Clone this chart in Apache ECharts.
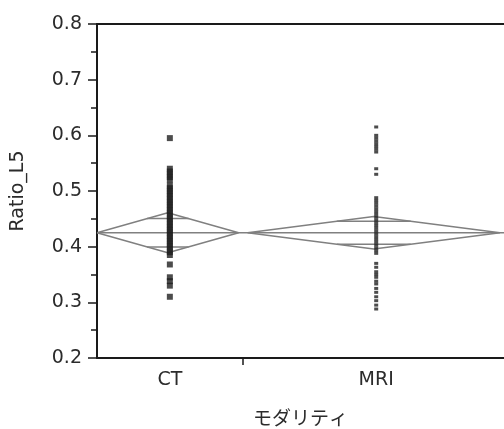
<!DOCTYPE html>
<html>
<head>
<meta charset="utf-8">
<script src="https://cdn.jsdelivr.net/npm/echarts@6/dist/echarts.min.js"></script>
<style>
  html, body { margin: 0; padding: 0; background: #fff; }
  #chart { width: 504px; height: 429px; }
</style>
</head>
<body>
<div id="chart"></div>
<script>
// data
const categories = ['CT', 'MRI']
const means = [0.425, 0.425]
const ciHalf = [0.036, 0.029]   // half height of the means diamonds

const ctValues = [
  0.595, 0.540, 0.535, 0.530, 0.525, 0.520, 0.510, 0.505, 0.500, 0.495,
  0.490, 0.485, 0.480, 0.475, 0.470, 0.465, 0.460, 0.455, 0.450, 0.445,
  0.440, 0.435, 0.430, 0.425, 0.420, 0.415, 0.410, 0.405, 0.400, 0.395,
  0.390, 0.385, 0.368, 0.345, 0.338, 0.330, 0.310
]
const mriValues = [
  0.615, 0.600, 0.595, 0.590, 0.585, 0.580, 0.575, 0.570, 0.540, 0.530,
  0.488, 0.483, 0.478, 0.473, 0.468, 0.463, 0.458, 0.453, 0.448, 0.443,
  0.438, 0.433, 0.428, 0.423, 0.418, 0.413, 0.408, 0.403, 0.398, 0.393,
  0.388, 0.370, 0.363, 0.355, 0.350, 0.345, 0.338, 0.333, 0.325, 0.318,
  0.310, 0.303, 0.295, 0.288
]
const yTicks = [0.2, 0.3, 0.4, 0.5, 0.6, 0.7, 0.8]

// layout of the proportional x bands (0..1 across the plot)
const bandLeft = [0, 0.37]
const bandRight = [0.348, 0.99]
const centers = [0.179, 0.686]
const separator = 0.359

const DIAMOND = '#808080'
const INK = '#2b2b2b'

function diamond(i) {
  const x0 = bandLeft[i], x1 = bandRight[i], xc = (x0 + x1) / 2
  const m = means[i], h = ciHalf[i]
  return [[x0, m], [xc, m + h], [x1, m], [xc, m - h], [x0, m]]
}

function overlapMarks(i) {
  const x0 = bandLeft[i], x1 = bandRight[i], xc = (x0 + x1) / 2
  const half = (x1 - x0) / 2 * (1 - Math.SQRT1_2)
  const d = ciHalf[i] * Math.SQRT1_2
  const m = means[i]
  return [
    [[xc - half, m + d], [xc + half, m + d]],
    [[xc - half, m - d], [xc + half, m - d]]
  ]
}

const series = []

// mean line across all bands
series.push({
  type: 'line',
  data: [[0, means[0]], [bandRight[0], means[0]], [bandLeft[1], means[1]], [1, means[1]]],
  symbol: 'none',
  lineStyle: { color: DIAMOND, width: 1.5 },
  silent: true,
  z: 2
})

categories.forEach((c, i) => {
  series.push({
    type: 'line',
    data: diamond(i),
    symbol: 'none',
    lineStyle: { color: DIAMOND, width: 1.5 },
    silent: true,
    z: 2
  })
  overlapMarks(i).forEach(seg => {
    series.push({
      type: 'line',
      data: seg,
      symbol: 'none',
      lineStyle: { color: DIAMOND, width: 1.5 },
      silent: true,
      z: 2
    })
  })
})

series.push({
  type: 'scatter',
  data: ctValues.map(v => [centers[0], v]),
  symbol: 'rect',
  symbolSize: [6, 6],
  itemStyle: { color: '#1f1f1f' },
  z: 3
})
series.push({
  type: 'scatter',
  data: mriValues.map(v => [centers[1], v]),
  symbol: 'rect',
  symbolSize: [4, 3],
  itemStyle: { color: '#1f1f1f' },
  z: 3
})

const chart = echarts.init(document.getElementById('chart'), null, { renderer: 'canvas' })

chart.setOption({
  animation: false,
  backgroundColor: '#fff',
  grid: { left: 97, top: 24, right: 0, bottom: 71, outerBoundsMode: 'none' },
  xAxis: [{
    type: 'value',
    min: 0,
    max: 1,
    position: 'bottom',
    splitLine: { show: false },
    axisLine: { show: true, lineStyle: { color: '#1a1a1a', width: 2 } },
    axisTick: {
      show: true,
      customValues: [separator],
      length: 7,
      lineStyle: { color: '#1a1a1a', width: 1.5 }
    },
    axisLabel: {
      customValues: centers,
      formatter: v => {
        let best = 0
        centers.forEach((c, i) => { if (Math.abs(c - v) < Math.abs(centers[best] - v)) best = i })
        return categories[best]
      },
      margin: 13,
      fontSize: 19,
      color: INK,
      fontFamily: 'DejaVu Sans'
    },
    name: 'モダリティ',
    nameLocation: 'middle',
    nameGap: 50,
    nameTextStyle: { fontSize: 19, color: INK, fontFamily: 'Noto Sans CJK JP' }
  }, {
    type: 'value',
    min: 0,
    max: 1,
    position: 'top',
    splitLine: { show: false },
    axisLine: { show: true, lineStyle: { color: '#1a1a1a', width: 2 } },
    axisTick: { show: false },
    axisLabel: { show: false }
  }],
  yAxis: {
    type: 'value',
    min: 0.2,
    max: 0.8,
    interval: 0.1,
    splitLine: { show: false },
    axisLine: { show: true, lineStyle: { color: '#1a1a1a', width: 2 } },
    axisTick: { show: true, length: 9, lineStyle: { color: '#1a1a1a', width: 1.5 } },
    minorTick: { show: true, splitNumber: 2, length: 6, lineStyle: { color: '#1a1a1a', width: 1.5 } },
    axisLabel: {
      formatter: v => {
        const hit = yTicks.find(t => Math.abs(t - v) < 1e-6)
        return hit !== undefined ? hit.toFixed(1) : ''
      },
      margin: 15,
      fontSize: 19,
      color: INK,
      fontFamily: 'DejaVu Sans'
    },
    name: 'Ratio_L5',
    nameLocation: 'middle',
    nameGap: 69,
    nameTextStyle: { fontSize: 19, color: INK, fontFamily: 'DejaVu Sans' }
  },
  series: series
})
</script>
</body>
</html>
